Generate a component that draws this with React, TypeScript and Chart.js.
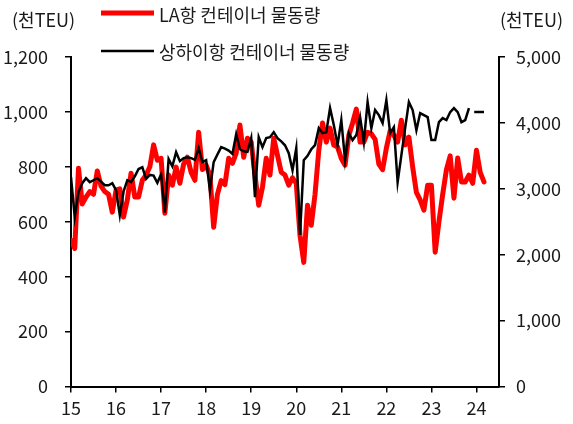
import React, { useEffect, useRef } from 'react';
import { Chart, registerables } from 'chart.js';

Chart.register(...registerables);

// Monthly data starting January 2015 (천TEU)
const START_YEAR = 2015;
const yearTicks = [2015, 2016, 2017, 2018, 2019, 2020, 2021, 2022, 2023, 2024];

const laLabel = 'LA항 컨테이너 물동량';
const shanghaiLabel = '상하이항 컨테이너 물동량';
const unitLabel = '(천TEU)';

const laValues = [
  // 2015
  532, 503, 795, 665, 690, 710, 700, 785, 730, 710, 700, 635,
  // 2016
  715, 720, 617, 679, 777, 690, 690, 751, 770, 800, 880, 824,
  // 2017
  831, 631, 770, 733, 799, 740, 810, 835, 780, 751, 926, 790,
  // 2018
  806, 770, 580, 700, 750, 735, 831, 813, 850, 952, 835, 904,
  // 2019
  890, 770, 660, 726, 831, 770, 904, 842, 780, 770, 733, 760,
  // 2020
  740, 550, 452, 660, 587, 700, 860, 960, 890, 941, 879, 872,
  // 2021
  830, 806, 915, 960, 1010, 890, 890, 926, 920, 900, 810, 790,
  // 2022
  868, 930, 915, 890, 970, 880, 908, 800, 707, 680, 642, 733,
  // 2023
  733, 489, 600, 700, 790, 840, 686, 832, 745, 745, 770, 740,
  // 2024
  860, 780, 745,
];

const shanghaiValues = [
  // 2015
  3176, 2570, 2950, 3085, 3161, 3100, 3130, 3161, 3110, 3054, 3054, 3085,
  // 2016
  2979, 2599, 2960, 3130, 3100, 3190, 3300, 3328, 3150, 3210, 3200, 3090,
  // 2017
  3220, 2640, 3450, 3340, 3556, 3420, 3465, 3480, 3465, 3440, 3617, 3404,
  // 2018
  3435, 2979, 3404, 3520, 3632, 3610, 3580, 3530, 3830, 3600, 3570, 3560,
  // 2019
  3769, 2872, 3784, 3632, 3769, 3784, 3860, 3769, 3720, 3660, 3541, 3283,
  // 2020
  3617, 2300, 3435, 3500, 3600, 3663, 3920, 3845, 3860, 4225, 3967, 3663,
  // 2021
  4042, 3435, 3845, 3739, 3815, 4088, 3708, 4316, 3920, 4195, 4118, 3997,
  // 2022
  4346, 3845, 3936, 3100, 3510, 3920, 4316, 4195, 3890, 4149, 4118, 4088,
  // 2023
  3739, 3739, 4012, 4073, 4042, 4164, 4225, 4164, 4012, 4042, 4225,
];

// Forecast segment (month index from Jan 2015)
const shanghaiForecastMonths = [107.4, 110];
const shanghaiForecastValues = [4164, 4164];

const FONT = '"Noto Sans CJK KR", "Noto Sans", sans-serif';
const TEXT = '#1a1a1a';
const RED = '#ff0000';
const BLACK = '#000000';

const toPoints = (vals: number[]) =>
  vals.map((v, i) => ({ x: START_YEAR + i / 12, y: v }));

const fmt = (v: number) => Number(v).toLocaleString('en-US');

const overlayPlugin = {
  id: 'overlayTexts',
  afterDraw(chart: any) {
    const ctx = chart.ctx as CanvasRenderingContext2D;
    ctx.save();
    ctx.font = `18px ${FONT}`;
    ctx.fillStyle = TEXT;
    ctx.textBaseline = 'middle';
    ctx.textAlign = 'left';
    ctx.fillText(unitLabel, 12, 20);
    ctx.textAlign = 'right';
    ctx.fillText(unitLabel, 563, 20);

    // legend
    ctx.lineCap = 'butt';
    ctx.strokeStyle = RED;
    ctx.lineWidth = 5;
    ctx.beginPath();
    ctx.moveTo(101, 13);
    ctx.lineTo(154, 13);
    ctx.stroke();
    ctx.strokeStyle = BLACK;
    ctx.lineWidth = 2.5;
    ctx.beginPath();
    ctx.moveTo(101, 51);
    ctx.lineTo(154, 51);
    ctx.stroke();
    ctx.textAlign = 'left';
    ctx.fillText(laLabel, 159, 15);
    ctx.fillText(shanghaiLabel, 159, 52);
    ctx.restore();
  },
};

export default function App() {
  const ref = useRef<HTMLCanvasElement | null>(null);

  useEffect(() => {
    if (!ref.current) return;
    const tickFont = { family: FONT, size: 18 };
    const gridCommon = {
      drawOnChartArea: false,
      drawTicks: true,
      tickLength: 6,
      color: BLACK,
      lineWidth: 1.5,
    };
    const chart = new Chart(ref.current, {
      type: 'line',
      data: {
        datasets: [
          {
            label: shanghaiLabel,
            data: toPoints(shanghaiValues),
            yAxisID: 'y1',
            borderColor: BLACK,
            borderWidth: 2.5,
            pointRadius: 0,
            tension: 0,
            order: 0,
          },
          {
            label: shanghaiLabel + ' (전망)',
            data: shanghaiForecastMonths.map((m, i) => ({
              x: START_YEAR + m / 12,
              y: shanghaiForecastValues[i],
            })),
            yAxisID: 'y1',
            borderColor: BLACK,
            borderWidth: 2.5,
            pointRadius: 0,
            order: 0,
          },
          {
            label: laLabel,
            data: toPoints(laValues),
            yAxisID: 'y',
            borderColor: RED,
            borderWidth: 5,
            borderJoinStyle: 'round',
            borderCapStyle: 'round',
            pointRadius: 0,
            tension: 0,
            order: 1,
          },
        ],
      },
      options: {
        animation: false,
        responsive: false,
        maintainAspectRatio: false,
        parsing: false as any,
        layout: { padding: { top: 57, bottom: 0, left: 0, right: 0 } },
        plugins: {
          legend: { display: false },
          tooltip: { enabled: false },
          title: { display: false },
        },
        scales: {
          x: {
            type: 'linear',
            min: 2015,
            max: 2024.5,
            afterBuildTicks: (s: any) => {
              s.ticks = yearTicks.map((v) => ({ value: v }));
            },
            afterFit: (s: any) => {
              s.height = 37.5;
            },
            ticks: {
              autoSkip: false,
              maxRotation: 0,
              padding: 5,
              color: TEXT,
              font: tickFont,
              callback: (v: any) => String(v).slice(2),
            },
            grid: gridCommon,
            border: { display: true, color: BLACK, width: 2 },
          },
          y: {
            position: 'left',
            min: 0,
            max: 1200,
            afterFit: (s: any) => {
              s.width = 71;
            },
            ticks: {
              stepSize: 200,
              padding: 17,
              color: TEXT,
              font: tickFont,
              callback: (v: any) => fmt(v),
            },
            grid: gridCommon,
            border: { display: true, color: BLACK, width: 2 },
          },
          y1: {
            position: 'right',
            min: 0,
            max: 5000,
            afterFit: (s: any) => {
              s.width = 74;
            },
            ticks: {
              stepSize: 1000,
              padding: 11,
              color: TEXT,
              font: tickFont,
              callback: (v: any) => fmt(v),
            },
            grid: gridCommon,
            border: { display: true, color: BLACK, width: 2 },
          },
        },
      } as any,
      plugins: [overlayPlugin],
    });
    return () => chart.destroy();
  }, []);

  return (
    <div style={{ position: 'absolute', left: 0, top: 0, width: 573, height: 424, background: '#fff' }}>
      <canvas ref={ref} width={573} height={424} style={{ display: 'block', width: 573, height: 424 }} />
    </div>
  );
}
